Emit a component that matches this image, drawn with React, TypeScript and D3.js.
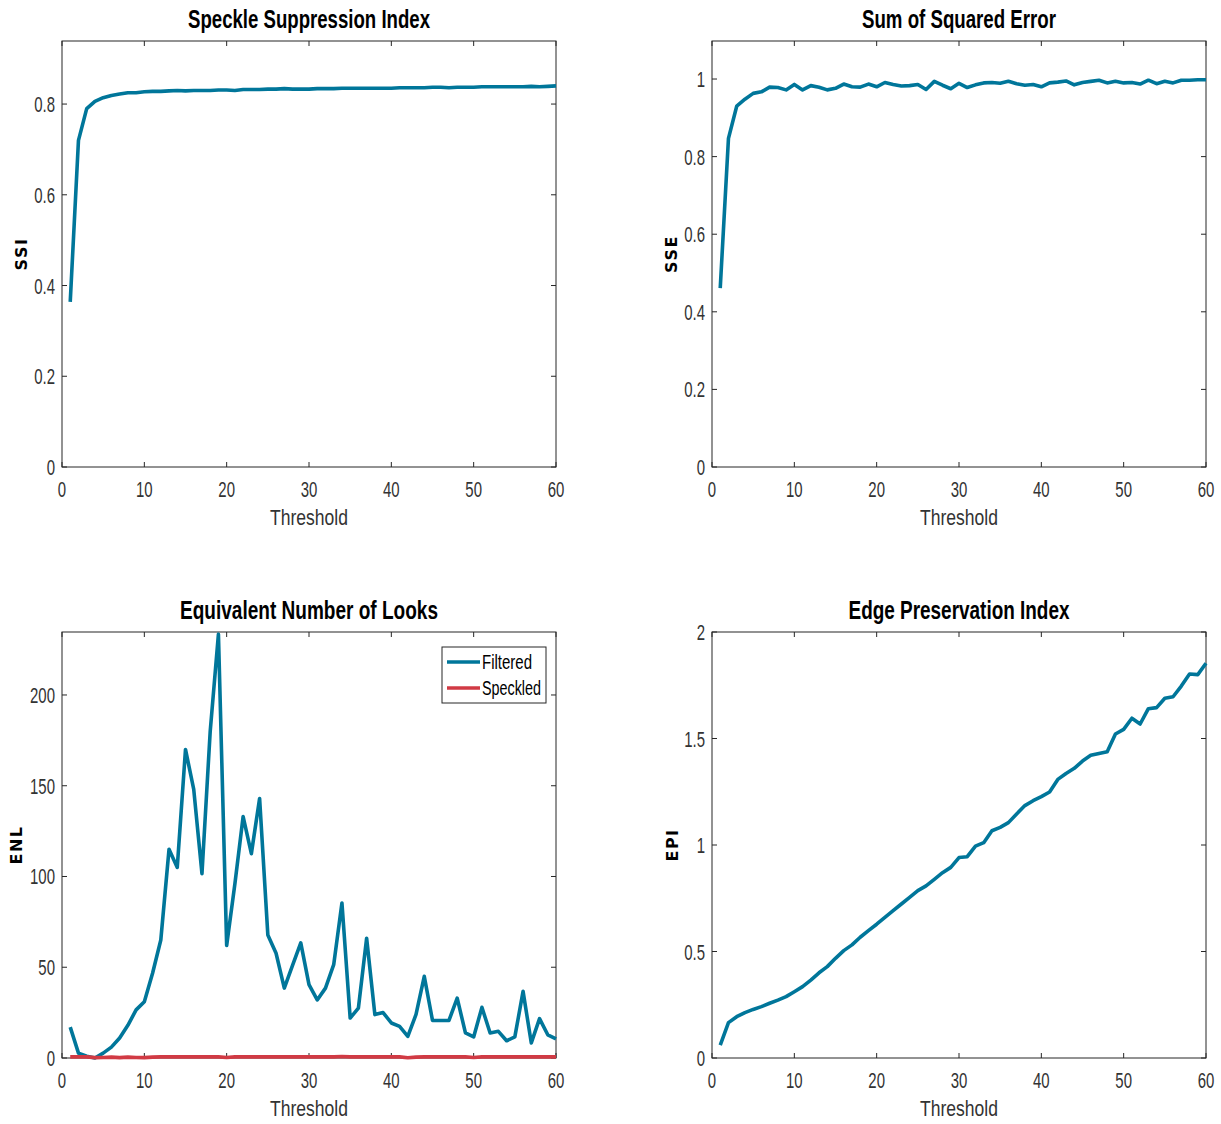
import React from "react";
import * as d3 from "d3";

const thresholds = d3.range(1, 61);

const ssiValues = [
  0.364, 0.72, 0.79, 0.806, 0.814, 0.819, 0.822, 0.825, 0.825, 0.827,
  0.828, 0.828, 0.829, 0.83, 0.829, 0.83, 0.83, 0.83, 0.831, 0.831,
  0.83, 0.832, 0.832, 0.832, 0.833, 0.833, 0.834, 0.833, 0.833, 0.833,
  0.834, 0.834, 0.834, 0.835, 0.835, 0.835, 0.835, 0.835, 0.835, 0.835,
  0.836, 0.836, 0.836, 0.836, 0.837, 0.837, 0.836, 0.837, 0.837, 0.837,
  0.838, 0.838, 0.838, 0.838, 0.838, 0.838, 0.839, 0.838, 0.839, 0.84,
];

const sseValues = [
  0.461, 0.847, 0.93, 0.948, 0.963, 0.967, 0.979, 0.978, 0.972, 0.986,
  0.972, 0.983, 0.979, 0.972, 0.976, 0.987, 0.98, 0.979, 0.987, 0.98,
  0.991, 0.986, 0.982, 0.983, 0.986, 0.973, 0.994, 0.984, 0.975, 0.989,
  0.978, 0.985, 0.99, 0.991, 0.989, 0.994, 0.988, 0.984, 0.986, 0.98,
  0.99, 0.992, 0.995, 0.985, 0.991, 0.994, 0.997, 0.99, 0.994, 0.99,
  0.991, 0.987, 0.997, 0.988, 0.994, 0.99, 0.997, 0.997, 0.998, 0.998,
];

const enlFiltered = [
  17, 2.7, 1, 0, 2.7, 6, 11, 18, 26.5, 31,
  46.7, 65, 115, 105, 170, 148, 101.6, 180, 233.5, 62,
  96, 133, 112.6, 143, 67.8, 57.7, 38.5, 51, 63.4, 40.4,
  32, 38.5, 51.4, 85.4, 22, 27.5, 66, 23.9, 25, 19.3,
  17.4, 11.9, 24, 45, 20.7, 20.7, 20.7, 33, 13.8, 11.6,
  27.9, 13.8, 14.7, 9.5, 11.6, 36.7, 8.3, 21.7, 12.8, 10.6,
];

const enlSpeckled = [
  0.6, 0.6, 0.6, 0.2, 0.3, 0.5, 0.2, 0.5, 0.3, 0.2,
  0.5, 0.6, 0.6, 0.6, 0.6, 0.6, 0.6, 0.6, 0.6, 0.3,
  0.6, 0.6, 0.6, 0.6, 0.6, 0.6, 0.6, 0.6, 0.6, 0.6,
  0.6, 0.6, 0.6, 0.8, 0.6, 0.6, 0.6, 0.6, 0.6, 0.6,
  0.6, 0.1, 0.5, 0.6, 0.6, 0.6, 0.6, 0.6, 0.6, 0.3,
  0.6, 0.6, 0.6, 0.6, 0.6, 0.7, 0.6, 0.6, 0.6, 0.6,
];

const epiValues = [
  0.061, 0.166, 0.194, 0.213, 0.228, 0.241, 0.257, 0.272, 0.288, 0.311,
  0.335, 0.366, 0.4, 0.429, 0.468, 0.504, 0.531, 0.567, 0.598, 0.628,
  0.66, 0.692, 0.723, 0.754, 0.786, 0.808, 0.839, 0.87, 0.895, 0.941,
  0.945, 0.995, 1.011, 1.067, 1.083, 1.105, 1.146, 1.185, 1.208, 1.227,
  1.249, 1.308, 1.336, 1.36, 1.394, 1.421, 1.43, 1.438, 1.521, 1.543,
  1.595, 1.568, 1.64, 1.645, 1.689, 1.696, 1.746, 1.803, 1.8, 1.853,
];

const xTicks = [0, 10, 20, 30, 40, 50, 60];
const ssiTicks = [0, 0.2, 0.4, 0.6, 0.8];
const sseTicks = [0, 0.2, 0.4, 0.6, 0.8, 1];
const enlTicks = [0, 50, 100, 150, 200];
const epiTicks = [0, 0.5, 1, 1.5, 2];
const legendLabels = ["Filtered", "Speckled"];

const BLUE = "#00769a";
const RED = "#d13a44";
const FONT = "'Liberation Sans', Arial, sans-serif";
const TXT = "#333333";
const SX = 0.68;

function CText(props: {
  x: number; y: number; anchor?: "start" | "middle" | "end"; size: number;
  sx?: number; fill?: string; weight?: string | number; children: React.ReactNode;
}) {
  const { x, y, anchor = "start", size, sx = SX, fill = TXT, weight = "normal", children } = props;
  return (
    <text transform={`translate(${x},${y}) scale(${sx},1)`} textAnchor={anchor} fontSize={size}
      fill={fill} fontWeight={weight} fontFamily={FONT}>{children}</text>
  );
}

function Panel(props: {
  left: number; top: number; width: number; height: number;
  yMax: number; yTicks: number[]; yFmt: (v: number) => string;
  title: string; titleW: number; ylabel: string; ylabelX: number; series: Series[]; legend?: boolean;
}) {
  const { left, top, width, height, yMax, yTicks, yFmt, title, titleW, ylabel, ylabelX, series, legend } = props;
  const x = d3.scaleLinear().domain([0, 60]).range([left, left + width]);
  const y = d3.scaleLinear().domain([0, yMax]).range([top + height, top]);
  const line = d3.line<number>().x((_, i) => x(thresholds[i])).y((d) => y(d));
  const bottom = top + height;
  const right = left + width;
  const tl = 5;
  const cid = `clip-${title.replace(/\s/g, "")}`;
  return (
    <g>
      <defs>
        <clipPath id={cid}>
          <rect x={left} y={top - 2} width={width + 2} height={height + 4} />
        </clipPath>
      </defs>
      <rect x={left} y={top} width={width} height={height} fill="#fff" stroke="#262626" strokeWidth={1} />
      {xTicks.map((t) => (
        <g key={"x" + t}>
          <line x1={x(t)} x2={x(t)} y1={bottom} y2={bottom - tl} stroke="#262626" />
          <line x1={x(t)} x2={x(t)} y1={top} y2={top + tl} stroke="#262626" />
          <CText x={x(t)} y={bottom + 30} anchor="middle" size={22}>{t}</CText>
        </g>
      ))}
      {yTicks.map((t) => (
        <g key={"y" + t}>
          <line x1={left} x2={left + tl} y1={y(t)} y2={y(t)} stroke="#262626" />
          <line x1={right} x2={right - tl} y1={y(t)} y2={y(t)} stroke="#262626" />
          <CText x={left - 7} y={y(t) + 8} anchor="end" size={22}>{yFmt(t)}</CText>
        </g>
      ))}
      <g clipPath={`url(#${cid})`}>
        {series.map((s, i) => (
          <path key={i} d={line(s.values) || ""} fill="none" stroke={s.color} strokeWidth={3.6} strokeLinejoin="round" />
        ))}
      </g>
      <text x={(left + right) / 2} y={top - 13} textAnchor="middle" fontSize={25} fill="#000" fontWeight="bold"
        fontFamily={FONT} textLength={titleW} lengthAdjust="spacingAndGlyphs">{title}</text>
      <text x={(left + right) / 2} y={bottom + 58} textAnchor="middle" fontSize={22} fill={TXT}
        fontFamily={FONT} textLength={78} lengthAdjust="spacingAndGlyphs">Threshold</text>
      <text transform={`translate(${ylabelX},${top + height / 2}) rotate(-90)`} textAnchor="middle" fontSize={16}
        fontWeight="bold" fill="#000" letterSpacing={1.5} fontFamily="'DejaVu Sans', sans-serif" dy="0.35em">{ylabel}</text>
      {legend && (
        <g>
          <rect x={442} y={647} width={104} height={56} fill="#fff" stroke="#262626" strokeWidth={1} />
          {legendLabels.map((lab, i) => (
            <g key={lab}>
              <line x1={447} x2={480} y1={662 + i * 26} y2={662 + i * 26} stroke={series[i].color} strokeWidth={3.6} />
              <text x={482} y={669 + i * 26} fontSize={20} fill="#000" fontFamily={FONT}
                textLength={i === 0 ? 50 : 59} lengthAdjust="spacingAndGlyphs">{lab}</text>
            </g>
          ))}
        </g>
      )}
    </g>
  );
}

type Series = { values: number[]; color: string };

export default function App() {
  const f1 = (v: number) => (v === 0 ? "0" : String(+v.toFixed(1)));
  const f0 = (v: number) => String(v);
  return (
    <svg width={1221} height={1124} style={{ position: "absolute", left: 0, top: 0, background: "#fff" }}>
      <rect width={1221} height={1124} fill="#fff" />
      <Panel left={62} top={41} width={494} height={426} yMax={0.939} yTicks={ssiTicks} yFmt={f1}
        title="Speckle Suppression Index" titleW={242} ylabel="SSI" ylabelX={21}
        series={[{ values: ssiValues, color: BLUE }]} />
      <Panel left={712} top={41} width={494} height={426} yMax={1.098} yTicks={sseTicks} yFmt={f1}
        title="Sum of Squared Error" titleW={194} ylabel="SSE" ylabelX={671}
        series={[{ values: sseValues, color: BLUE }]} />
      <Panel left={62} top={632} width={494} height={426} yMax={234.7} yTicks={enlTicks} yFmt={f0}
        title="Equivalent Number of Looks" titleW={258} ylabel="ENL" ylabelX={16}
        series={[{ values: enlFiltered, color: BLUE }, { values: enlSpeckled, color: RED }]} legend />
      <Panel left={712} top={632} width={494} height={426} yMax={2} yTicks={epiTicks} yFmt={f0}
        title="Edge Preservation Index" titleW={221} ylabel="EPI" ylabelX={672}
        series={[{ values: epiValues, color: BLUE }]} />
    </svg>
  );
}
